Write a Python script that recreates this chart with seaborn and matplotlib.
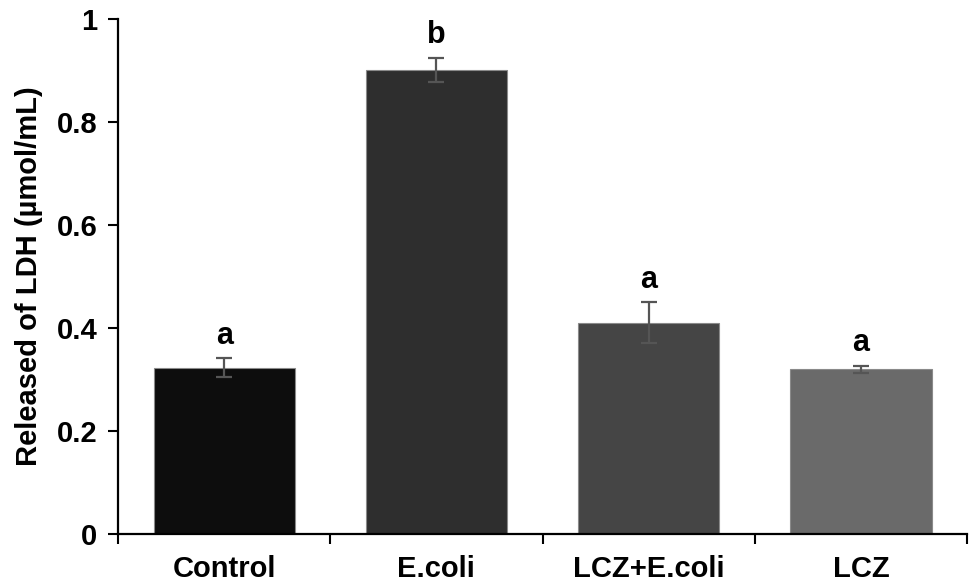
import pandas as pd
import matplotlib.pyplot as plt
from matplotlib.ticker import FixedLocator
import seaborn as sns
import numpy as np

groups = ["Control", "E.coli", "LCZ+E.coli", "LCZ"]
ldh_mean = [0.323, 0.901, 0.410, 0.320]
ldh_err = [0.018, 0.024, 0.040, 0.007]
letters = ["a", "b", "a", "a"]
bar_colors = ["#0d0d0d", "#2e2e2e", "#454545", "#6a6a6a"]
y_ticks = [0, 0.2, 0.4, 0.6, 0.8, 1]
y_ticklabels = ["0", "0.2", "0.4", "0.6", "0.8", "1"]


def defaults():
    sns.set_theme(style="white")
    plt.rcParams['font.family'] = ['Liberation Sans', 'DejaVu Sans']
    plt.rcParams['font.weight'] = 'bold'
    plt.rcParams['axes.labelweight'] = 'bold'
    plt.rcParams['text.color'] = 'black'
    plt.rcParams['axes.labelcolor'] = 'black'
    plt.rcParams['xtick.color'] = 'black'
    plt.rcParams['ytick.color'] = 'black'


def plot_ldh():
    df = pd.DataFrame({"group": groups, "ldh": ldh_mean, "err": ldh_err})
    fig = plt.figure(figsize=(9.75, 5.85), dpi=100)
    ax = fig.add_axes([0.121, 0.0872, 0.871, 0.8803])

    sns.barplot(data=df, x="group", y="ldh", hue="group", palette=bar_colors,
                width=0.665, edgecolor="#8a8a8a", linewidth=0.8,
                legend=False, ax=ax)
    ax.errorbar(np.arange(len(groups)), df["ldh"], yerr=df["err"], fmt="none",
                ecolor="#555555", elinewidth=1.6, capsize=6, capthick=1.6)

    for i, (m, e, lab) in enumerate(zip(ldh_mean, ldh_err, letters)):
        ax.text(i, m + e + 0.015, lab, ha="center", va="bottom",
                fontsize=22, fontweight="bold", color="black")

    ax.set_ylim(0, 1)
    ax.set_xlim(-0.5, len(groups) - 0.5)
    ax.yaxis.set_major_locator(FixedLocator(y_ticks))
    ax.set_yticklabels(y_ticklabels)
    ax.set_xlabel("")
    ax.set_ylabel("Released of LDH (µmol/mL)", fontsize=21, fontweight="bold", labelpad=10)

    # Excel-style ticks: marks between categories, labels centred
    ax.xaxis.set_minor_locator(FixedLocator(np.arange(len(groups) + 1) - 0.5))
    ax.tick_params(axis="x", which="major", length=0, pad=15, labelsize=21)
    ax.tick_params(axis="x", which="minor", length=7, width=1.5, color="black", bottom=True)
    ax.tick_params(axis="y", which="major", length=7, width=1.5, color="black",
                   left=True, pad=8, labelsize=21)

    sns.despine(ax=ax)
    for side in ["left", "bottom"]:
        ax.spines[side].set_color("black")
        ax.spines[side].set_linewidth(1.6)

    fig.savefig("out.png", dpi=100)


def main():
    defaults()
    plot_ldh()


if __name__ == "__main__":
    main()
